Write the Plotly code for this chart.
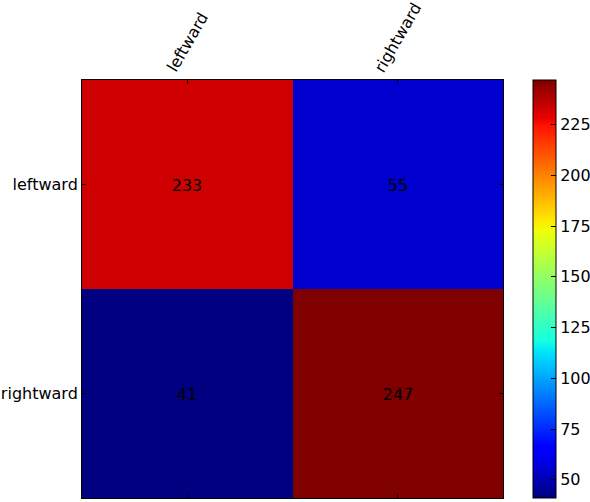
import plotly.graph_objects as go

# confusion matrix values
labels = ['leftward', 'rightward']
counts = [[233, 55],
          [41, 247]]
cbar_ticks = [50, 75, 100, 125, 150, 175, 200, 225]

# matplotlib "jet"
jet = [
    [0.0, 'rgb(0,0,128)'],
    [0.11, 'rgb(0,0,255)'],
    [0.125, 'rgb(0,0,255)'],
    [0.34, 'rgb(0,219,255)'],
    [0.35, 'rgb(0,229,247)'],
    [0.375, 'rgb(20,255,226)'],
    [0.64, 'rgb(239,255,8)'],
    [0.65, 'rgb(247,245,0)'],
    [0.66, 'rgb(255,236,0)'],
    [0.89, 'rgb(255,19,0)'],
    [0.91, 'rgb(232,0,0)'],
    [1.0, 'rgb(128,0,0)'],
]

font = dict(family='DejaVu Sans', size=16, color='black')

fig = go.Figure(
    data=go.Heatmap(
        z=counts,
        x=labels,
        y=labels,
        colorscale=jet,
        texttemplate='%{z}',
        textfont=font,
        colorbar=dict(
            x=(533 - 82) / 421, xanchor='left', xpad=0,
            y=0.5, yanchor='middle', len=1, ypad=0,
            thickness=23, thicknessmode='pixels',
            outlinecolor='black', outlinewidth=1,
            tickvals=cbar_ticks,
            ticks='inside', ticklen=5, tickcolor='black',
            tickfont=font,
        ),
    )
)

# rotated top labels centred on the ticks, like matplotlib's rotation=60
for lab in labels:
    fig.add_annotation(
        x=lab, xref='x', y=1, yref='paper',
        text=lab, textangle=-60, showarrow=False,
        xanchor='center', yanchor='bottom', yshift=2,
        font=font,
    )

fig.update_xaxes(
    side='top', showticklabels=False, automargin=False,
    showline=True, linecolor='black', linewidth=1, mirror='ticks',
    ticks='inside', ticklen=4, tickcolor='black',
    showgrid=False, zeroline=False,
)

fig.update_yaxes(
    autorange='reversed', tickfont=font, automargin=False,
    showline=True, linecolor='black', linewidth=1, mirror='ticks',
    ticks='inside', ticklen=4, tickcolor='black',
    showgrid=False, zeroline=False,
)

fig.update_layout(
    width=590, height=502,
    margin=dict(l=82, r=87, t=80, b=4, autoexpand=False),
    plot_bgcolor='white', paper_bgcolor='white',
    font=font,
)

# drop the default 8px page margin so the figure fills the window
fig.write_html("out.html", config={'displayModeBar': False},
               post_script="document.body.style.margin='0';")
